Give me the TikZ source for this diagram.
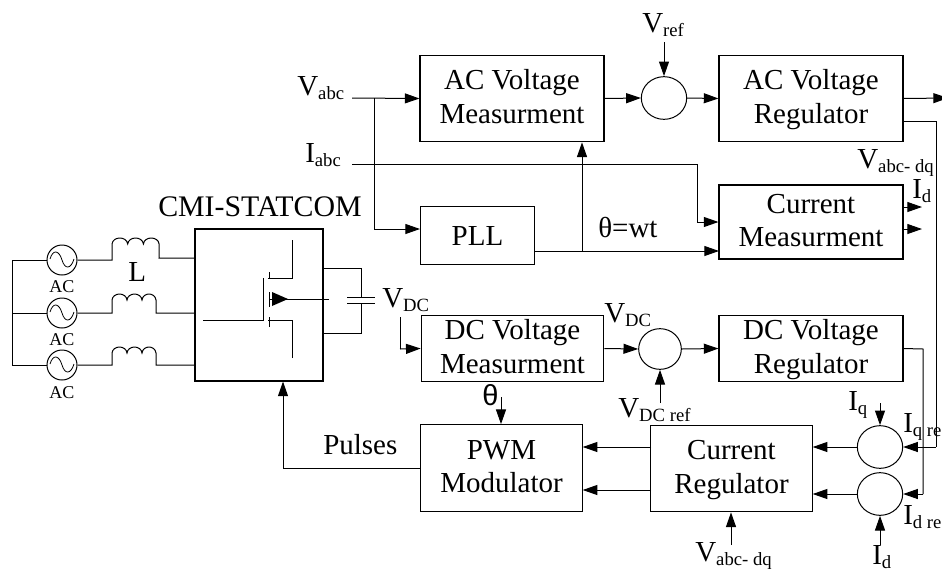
\documentclass[tikz,border=0pt]{standalone}
\usepackage{fontspec}
\setmainfont{Liberation Serif}
\newfontfamily\thetafont{Liberation Sans}
\usetikzlibrary{arrows.meta, positioning, shapes.geometric}

\newcommand{\lsub}[1]{\raisebox{-3.2pt}{\fontsize{14}{14}\selectfont #1}}
\newcommand{\hump}[1]{.. controls ++(1,-8) and ++(-1,-8) .. ++(#1,0)}
\newcommand{\twolines}[2]{\rule[-6.5pt]{0pt}{25pt}#1\\\rule[-6.5pt]{0pt}{25pt}#2}

\tikzset{
    blockbox/.style={draw, line width=0.8pt, align=center, inner sep=0pt, font=\fontsize{21.75}{25}\selectfont},
    sumnode/.style={draw, ellipse, line width=0.75pt, inner sep=0pt, minimum width=34pt, minimum height=32pt},
    acsource/.style={draw, circle, line width=0.75pt, inner sep=0pt, minimum size=22.5pt},
    sig/.style={line width=0.75pt, -{Triangle[length=11pt, width=7.5pt]}},
    wire/.style={line width=0.75pt},
    lab/.style={anchor=base west, inner sep=0pt, font=\fontsize{21.75}{25}\selectfont},
    smalllab/.style={anchor=base, inner sep=0pt, font=\fontsize{13.5}{15}\selectfont}
}

\begin{document}
\begin{tikzpicture}[x=0.75pt, y=-0.75pt]
    \clip (0,0) rectangle (942,572);

    % Blocks
    \node[blockbox, minimum width=138pt, minimum height=65pt] (acmeas) at (512,98.5) {\twolines{AC Voltage}{Measurment}};
    \node[blockbox, minimum width=138pt, minimum height=65pt] (acreg) at (811,98.5) {\twolines{AC Voltage}{Regulator}};
    \node[blockbox, minimum width=86pt, minimum height=43pt] (pll) at (477.5,235.5) {PLL};
    \node[blockbox, minimum width=138pt, minimum height=55.5pt] (curmeas) at (811,222) {\twolines{Current}{Measurment}};
    \node[blockbox, minimum width=137pt, minimum height=49pt] (dcmeas) at (512.5,348.5) {\twolines{DC Voltage}{Measurment}};
    \node[blockbox, minimum width=138pt, minimum height=49pt] (dcreg) at (811,348.5) {\twolines{DC Voltage}{Regulator}};
    \node[blockbox, minimum width=121pt, minimum height=65pt] (pwm) at (501.5,468) {\twolines{PWM}{Modulator}};
    \node[blockbox, minimum width=121pt, minimum height=65pt] (curreg) at (731.5,468.5) {\twolines{Current}{Regulator}};
    \node[draw, line width=0.8pt, minimum width=96pt, minimum height=114pt] (statcom) at (259,305) {};

    % Summing circles
    \node[sumnode] (sumv) at (664,98) {};
    \node[sumnode, minimum width=32pt, minimum height=30.5pt] (sumdc) at (660,349) {};
    \node[sumnode] (sumq) at (880,447) {};
    \node[sumnode] (sumd) at (880,494) {};

    % Free ends
    \coordinate (vabcin) at (352,98);
    \coordinate (vabcbr) at (374,98);
    \coordinate (pllin) at (420,229);
    \coordinate (iabcin) at (352,164);
    \coordinate (iabcbr) at (697,164);
    \coordinate (cmlower) at (719,251);
    \coordinate (pllout) at (535,251);
    \coordinate (thetabr) at (582,251);
    \coordinate (regout) at (948,98);
    \coordinate (regfb) at (903,121);
    \coordinate (fbq) at (936,447);
    \coordinate (dcout) at (923,349);
    \coordinate (fbd) at (923,494);

    % Top row
    \draw[sig] (vabcin) -- (acmeas.west);
    \draw[wire] (vabcbr) -- (374,229);
    \draw[sig] (374,229) -- (pllin);
    \draw[sig] (acmeas.east) -- (sumv.west);
    \draw[sig] (sumv.east) -- (acreg.west);
    \draw[sig] (acreg.east) -- (regout);
    \draw[wire] (iabcin) -- (iabcbr) -- (697,222);
    \draw[sig] (697,222) -- (curmeas.west);
    \draw[sig] (pllout) -- (cmlower);
    \draw[sig] (thetabr) -- (acmeas.south -| thetabr);

    % Outputs of the current measurement
    \coordinate (idout) at (922,207);
    \coordinate (iqout) at (922,229);
    \draw[sig] (903,207) -- (idout);
    \draw[sig] (903,229) -- (iqout);

    % Feedback to the lower circles
    \draw[wire] (regfb) -| (fbq);
    \draw[sig] (fbq) -- (sumq.east);
    \draw[wire] (dcreg.east) -- (dcout) -- (fbd);
    \draw[sig] (fbd) -- (sumd.east);
    \draw[sig] (sumq.west) -- (curreg.east |- sumq);
    \draw[sig] (sumd.west) -- (curreg.east |- sumd);

    % DC row
    \coordinate (vdcdown) at (400,317);
    \draw[wire] (vdcdown) -- (400,349);
    \draw[sig] (400,349) -- (dcmeas.west);
    \draw[sig] (dcmeas.east) -- (sumdc.west);
    \draw[sig] (sumdc.east) -- (dcreg.west);
    \coordinate (vdcrefin) at (660,403);
    \draw[sig] (vdcrefin) -- (sumdc.south);

    % Modulator
    \coordinate (regpwmup) at (651,447);
    \coordinate (regpwmlo) at (651,490);
    \draw[sig] (regpwmup) -- (pwm.east |- regpwmup);
    \draw[sig] (regpwmlo) -- (pwm.east |- regpwmlo);
    \coordinate (thetain) at (501,397);
    \draw[sig] (thetain) -- (pwm.north -| thetain);
    \draw[wire] (pwm.west) -- (283,468);
    \draw[sig] (283,468) -- (statcom.south -| 283,468);

    % Inputs of the circles
    \coordinate (vrefin) at (664,42);
    \draw[sig] (vrefin) -- (sumv.north);
    \coordinate (iqin) at (880,403);
    \draw[sig] (iqin) -- (sumq.north);
    \coordinate (idin) at (880,545);
    \draw[sig] (idin) -- (sumd.south);
    \coordinate (vdqin) at (731,545);
    \draw[sig] (vdqin) -- (curreg.south -| vdqin);

    % Sources
    \node[acsource] (acone) at (62,260) {};
    \node[acsource] (actwo) at (62,313) {};
    \node[acsource] (acthree) at (62,365) {};
    \foreach \n in {acone, actwo, acthree} {
        \draw[line width=0.6pt] (\n.center) ++(-12,-1) .. controls ++(3,-10) and ++(-3,-10) .. ++(12,1)
            .. controls ++(3,10) and ++(-3,10) .. ++(12,-1);
    }
    \draw[wire] (acone.west) -- (12,260) -- (12,365) -- (acthree.west);
    \draw[wire] (12,313) -- (actwo.west);

    % Inductors
    \draw[wire] (acone.east) -- (112,260) -- (112,244) \hump{15.7} \hump{15.7} \hump{15.7} -- (159,258) -- (195,258);
    \draw[wire] (actwo.east) -- (112,313) -- (112,300) \hump{15} \hump{15} \hump{14} -- (156,313) -- (195,313);
    \draw[wire] (acthree.east) -- (112,365) -- (112,353) \hump{15} \hump{15} \hump{14} -- (156,365) -- (195,365);

    % Switch
    \draw[wire] (292,240) -- (292,278) -- (268,278);
    \draw[wire] (292,358) -- (292,320) -- (268,320);
    \draw[wire] (203,320) -- (263,320) -- (263,278);
    \draw[wire] (269,272) -- (269,279);
    \draw[wire] (269,292) -- (269,307);
    \draw[wire] (269,317) -- (269,327);
    \draw[wire] (329,299) -- (270,299);
    \fill (288,299) -- (272,292) -- (272,306) -- cycle;

    % Capacitor
    \draw[wire] (323,268) -- (361,268) -- (361,297);
    \draw[wire] (361,303) -- (361,333) -- (323,333);
    \draw[wire] (347,297) -- (375,297);
    \draw[wire] (347,303) -- (375,303);

    % Labels
    \node[lab, font=\fontsize{22.4}{25}\selectfont] (statcomlab) at (158,216) {CMI-STATCOM};
    \node[lab] (llab) at (128,281) {L};
    \node[smalllab] (aclabone) at (62,292) {AC};
    \node[smalllab] (aclabtwo) at (62,345) {AC};
    \node[smalllab] (aclabthree) at (62,398) {AC};
    \node[lab] (vabclab) at (297,95) {V\lsub{abc}};
    \node[lab] (iabclab) at (305,162) {I\lsub{abc}};
    \node[lab] (vreflab) at (642,32) {V\lsub{ref}};
    \node[lab] (thetalab) at (598,237) {θ=wt};
    \node[lab] (vdqlab) at (857,168) {V\lsub{abc- dq}};
    \node[lab] (idlab) at (912,198) {I\lsub{d}};
    \node[lab] (vdclab) at (382,307) {V\lsub{DC}};
    \node[lab] (vdcsumlab) at (604,322) {V\lsub{DC}};
    \node[lab] (vdcreflab) at (618,417) {V\lsub{DC ref}};
    \node[lab, font=\fontsize{21.75}{25}\thetafont] (thetapwm) at (482,405) {θ};
    \node[lab] (pulseslab) at (323,454) {Pulses};
    \node[lab] (iqlab) at (848,410) {I\lsub{q}};
    \node[lab] (iqreflab) at (903,432) {I\lsub{q re}};
    \node[lab] (idreflab) at (903,524) {I\lsub{d re}};
    \node[lab] (idinlab) at (872,564) {I\lsub{d}};
    \node[lab] (vdqinlab) at (695,561) {V\lsub{abc- dq}};
\end{tikzpicture}
\end{document}
